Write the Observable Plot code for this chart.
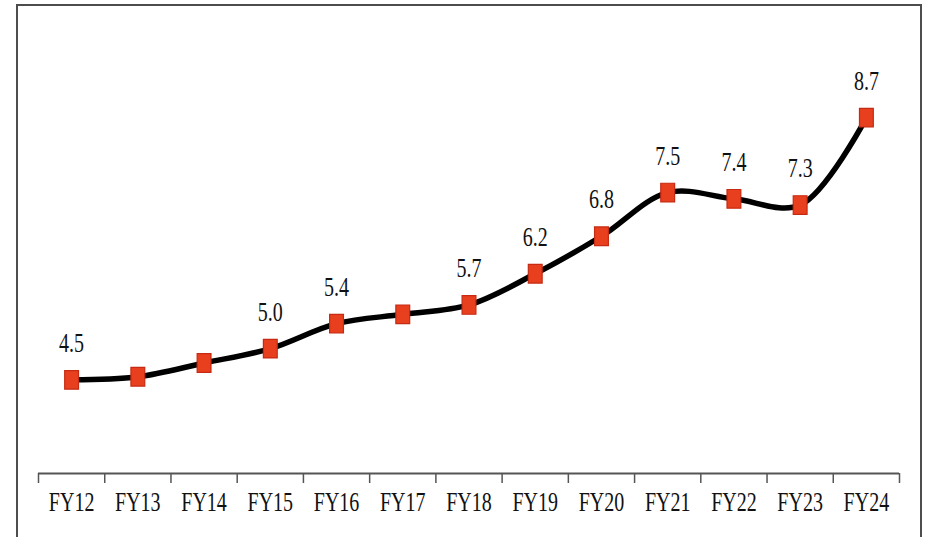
<!DOCTYPE html>
<html>
<head>
<meta charset="utf-8">
<script src="https://cdn.jsdelivr.net/npm/d3@7"></script>
<script src="https://cdn.jsdelivr.net/npm/@observablehq/plot@0.6"></script>
<style>
  html, body { margin: 0; padding: 0; background: #fff; }
  #wrap { position: relative; width: 929px; height: 537px; overflow: hidden; }
  #box { position: absolute; left: 16px; top: 4px; width: 906px; height: 560px;
         border: 2px solid #4d4d4d; box-sizing: border-box; pointer-events: none; }
</style>
</head>
<body>
<div id="wrap"><div id="box"></div></div>
<script>
// Fiscal years and the plotted series
const years = ["FY12","FY13","FY14","FY15","FY16","FY17","FY18","FY19","FY20","FY21","FY22","FY23","FY24"];
const values = [4.5, 4.55, 4.77, 5.0, 5.4, 5.55, 5.7, 6.2, 6.8, 7.5, 7.4, 7.3, 8.7];
// Which points carry a value label
const labelled = [true, false, false, true, true, false, true, true, true, true, true, true, true];

const rows = years.map((year, i) => ({ i, year, value: values[i], show: labelled[i] }));
const edges = d3.range(years.length + 1).map(k => k - 0.5);

// Tall rectangular marker
const tallSquare = {
  draw(context, size) {
    const w = Math.sqrt(size);
    const h = w * 1.35;
    context.rect(-w / 2, -h / 2, w, h);
  }
};

const chart = Plot.plot({
  width: 929,
  height: 537,
  marginLeft: 38,
  marginRight: 30,
  marginTop: 36,
  marginBottom: 64,
  style: { fontFamily: "'Liberation Serif', 'Times New Roman', serif", background: "transparent" },
  x: { type: "linear", domain: [-0.5, years.length - 0.5], axis: null, label: null },
  y: { domain: [3, 10], axis: null },
  marks: [
    Plot.ruleY([3], { x1: -0.5, x2: years.length - 0.5, stroke: "#555", strokeWidth: 2 }),
    Plot.ruleX(edges, { x: d => d, y1: 3, y2: 2.84, stroke: "#555", strokeWidth: 1.5 }),
    Plot.axisX({
      ticks: rows.map(d => d.i),
      tickFormat: i => years[i],
      tickSize: 0,
      tickPadding: 20,
      fontSize: 20,
      fill: "#111",
      label: null,
      anchor: "bottom"
    }),
    Plot.line(rows, { x: "i", y: "value", curve: "catmull-rom", stroke: "#000", strokeWidth: 5.5 }),
    Plot.dot(rows, { x: "i", y: "value", symbol: tallSquare, r: 7.8, fill: "#e8401e", stroke: "#c62a12", strokeWidth: 1.2 }),
    Plot.text(rows.filter(d => d.show), {
      x: "i", y: "value", text: d => d.value.toFixed(1),
      dy: -37, fontSize: 20, fill: "#111"
    })
  ]
});

document.getElementById("wrap").prepend(chart);

// Stretch text vertically about its own centre
const svgBox = chart.getBoundingClientRect();
chart.querySelectorAll("text").forEach(t => {
  const r = t.getBoundingClientRect();
  const ctm = t.parentNode.getCTM();
  const cx = r.x + r.width / 2 - svgBox.x - (ctm ? ctm.e : 0);
  const cy = r.y + r.height / 2 - svgBox.y - (ctm ? ctm.f : 0);
  const g = document.createElementNS("http://www.w3.org/2000/svg", "g");
  g.setAttribute("transform", `translate(${cx},${cy}) scale(1,1.4) translate(${-cx},${-cy})`);
  t.parentNode.insertBefore(g, t);
  g.appendChild(t);
});
</script>
</body>
</html>
